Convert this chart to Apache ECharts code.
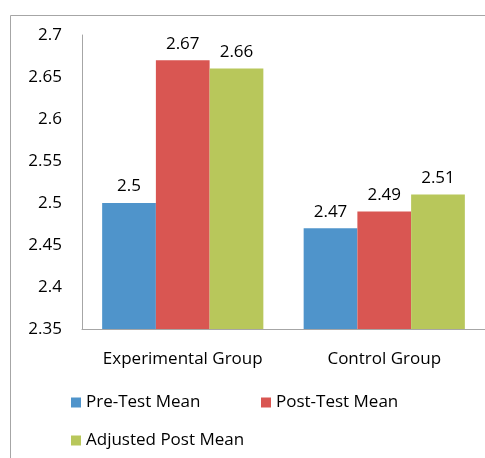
<!DOCTYPE html>
<html><head><meta charset="utf-8">
<script src="https://cdn.jsdelivr.net/npm/echarts@6/dist/echarts.min.js"></script>
<style>html,body{margin:0;padding:0;background:#fff}#c{width:485px;height:458px}</style>
</head><body><div id="c"></div>
<script>
var categories = ['Experimental Group', 'Control Group'];
var seriesNames = ['Pre-Test Mean', 'Post-Test Mean', 'Adjusted Post Mean'];
var preTest = [2.5, 2.47];
var postTest = [2.67, 2.49];
var adjustedPost = [2.66, 2.51];
var yTicks = [2.35, 2.4, 2.45, 2.5, 2.55, 2.6, 2.65, 2.7];

var colors = ['#4F94CB', '#D95652', '#B8C75B'];
var font = '"Open Sans", sans-serif';
var fs = 17;
var chart = echarts.init(document.getElementById('c'));
function mk(name, data, i) {
  return {
    name: name, type: 'bar', data: data, barGap: '0%', barCategoryGap: '20%',
    itemStyle: {color: colors[i]},
    label: {show: true, position: 'top', distance: 8, color: '#000', fontSize: fs, fontFamily: font,
      formatter: function(p){ return String(p.value); }}
  };
}
var lt = {fontSize: fs, fontFamily: font, color: '#000'};
chart.setOption({
  animation: false,
  graphic: [{type: 'rect', shape: {x: 10.5, y: 15.5, width: 600, height: 600}, style: {fill: 'none', stroke: '#a6a6a6', lineWidth: 1}}],
  grid: {left: 82, top: 35, width: 410, height: 294, containLabel: false},
  legend: [
    {data: [seriesNames[0]], left: 66, top: 389, itemWidth: 10, itemHeight: 10, itemGap: 5, icon: 'rect', textStyle: lt},
    {data: [seriesNames[1]], left: 256, top: 389, itemWidth: 10, itemHeight: 10, icon: 'rect', textStyle: lt},
    {data: [seriesNames[2]], left: 66, top: 427, itemWidth: 10, itemHeight: 10, icon: 'rect', textStyle: lt}
  ],
  xAxis: {type: 'category', data: categories,
    axisLine: {lineStyle: {color: '#a6a6a6'}}, axisTick: {show: false},
    axisLabel: {interval: 0, hideOverlap: false, color: '#000', fontSize: fs, fontFamily: font, margin: 22}},
  yAxis: {type: 'value', min: yTicks[0], max: yTicks[yTicks.length-1], interval: 0.05,
    axisLine: {show: true, lineStyle: {color: '#a6a6a6'}}, axisTick: {show: false},
    splitLine: {show: false},
    axisLabel: {color: '#000', fontSize: fs, fontFamily: font, margin: 20,
      formatter: function(v){ return String(parseFloat(v.toFixed(2))); }}},
  series: [mk(seriesNames[0], preTest, 0), mk(seriesNames[1], postTest, 1), mk(seriesNames[2], adjustedPost, 2)]
});
</script></body></html>
